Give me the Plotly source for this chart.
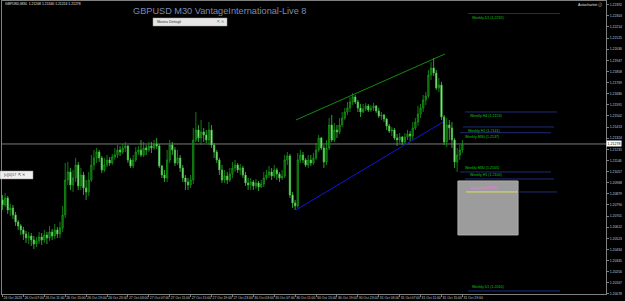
import plotly.graph_objects as go

# ---------------- data (prices in points, 1 point = 0.00001) ----------------
x_labels = ["26 Oct 2023", "26 Oct 07:00", "26 Oct 11:00", "26 Oct 15:00", "26 Oct 19:00",
            "26 Oct 23:00", "27 Oct 03:00", "27 Oct 07:00", "27 Oct 11:00", "27 Oct 15:00",
            "27 Oct 19:00", "27 Oct 23:00", "30 Oct 03:00", "30 Oct 07:00", "30 Oct 11:00",
            "30 Oct 15:00", "30 Oct 19:00", "30 Oct 23:00", "31 Oct 03:00", "31 Oct 07:00",
            "31 Oct 11:00", "31 Oct 15:00", "31 Oct 19:00"]
bars_per_label = 8

first_open_pts = 120830
close_pts = [120790,120846,120750,120766,120710,120654,120622,120590,120558,120526,
             120542,120510,120478,120502,120534,120510,120550,120526,120574,120542,
             120590,120558,120606,120710,120990,121054,120950,121006,121110,120942,
             121030,120926,120894,120990,121110,121166,121214,121166,121070,121110,
             121150,121126,121174,121190,121230,121214,121246,121262,121150,121102,
             121150,121214,121230,121190,121246,121230,121262,121246,121278,121262,
             121102,121030,121006,121150,121270,121230,121126,121166,121086,121006,
             120974,120950,120990,121310,121390,121326,121374,121350,121310,121390,
             121270,121214,121150,121070,120990,121022,120990,121038,121086,121110,
             121070,121086,121030,120966,120950,120974,120942,120966,120934,120958,
             121006,121030,121054,121022,121070,121038,121006,121022,121150,121182,
             120870,120806,120782,121150,121190,121150,121110,121150,121126,121166,
             121230,121326,121246,121134,121246,121430,121310,121390,121374,121430,
             121486,121534,121566,121614,121654,121614,121566,121534,121558,121582,
             121550,121566,121582,121542,121502,121510,121478,121422,121382,121390,
             121326,121310,121334,121294,121334,121358,121342,121406,121454,121518,
             121566,121630,121662,121830,121886,121846,121726,121750,121494,121294,
             121430,121406,121310,121134,121190,121230,121278]
high_pts = [120870,120886,120862,120798,120790,120734,120670,120638,120614,120582,
            120574,120566,120542,120534,120574,120566,120590,120574,120622,120598,
            120638,120614,120654,120782,121126,121134,121086,121070,121166,121134,
            121086,121054,120990,121054,121190,121230,121246,121230,121182,121166,
            121190,121174,121198,121246,121270,121262,121278,121294,121270,121166,
            121190,121254,121262,121310,121294,121270,121294,121294,121310,121326,
            121278,121110,121070,121230,121310,121294,121254,121230,121190,121110,
            121030,121006,121030,121406,121534,121430,121470,121406,121390,121454,
            121430,121286,121230,121166,121110,121070,121054,121086,121134,121150,
            121126,121118,121102,121054,121006,121006,120990,120998,120982,120990,
            121054,121070,121102,121086,121110,121086,121054,121070,121190,121214,
            121198,120894,120830,121206,121230,121214,121166,121190,121190,121206,
            121286,121350,121334,121270,121310,121486,121510,121446,121430,121486,
            121534,121566,121614,121654,121686,121670,121630,121598,121598,121606,
            121598,121590,121606,121590,121566,121534,121518,121486,121438,121414,
            121406,121358,121366,121342,121366,121390,121382,121454,121486,121582,
            121598,121670,121694,121870,121934,121966,121870,121806,121774,121510,
            121486,121470,121454,121326,121246,121270,121310]
low_pts = [120750,120774,120718,120702,120678,120622,120590,120550,120510,120486,
           120478,120462,120438,120454,120478,120470,120486,120478,120502,120510,
           120518,120526,120526,120574,120686,120950,120910,120894,120974,120910,
           120910,120870,120830,120862,120974,121070,121126,121134,121046,121054,
           121094,121102,121110,121150,121166,121182,121198,121214,121126,121086,
           121086,121134,121190,121174,121174,121190,121214,121206,121230,121238,
           121086,121006,120974,120974,121126,121190,121102,121110,121054,120974,
           120910,120910,120926,120958,121294,121294,121270,121294,121286,121270,
           121246,121166,121126,121030,120966,120966,120958,120974,121006,121054,
           121046,121030,121006,120942,120910,120910,120910,120918,120902,120926,
           120934,120990,121006,120990,121006,120990,120974,120990,121006,121110,
           120846,120766,120750,120766,121126,121126,121094,121086,121102,121110,
           121150,121214,121230,121086,121110,121230,121294,121294,121326,121358,
           121414,121470,121510,121534,121590,121598,121534,121494,121526,121542,
           121534,121534,121542,121526,121486,121470,121454,121390,121366,121342,
           121310,121262,121286,121270,121286,121310,121302,121310,121390,121422,
           121486,121534,121590,121646,121790,121822,121710,121694,121470,121270,
           121254,121310,121246,121086,121054,121150,121206]

# horizontal levels
level_names = ["Weekly D1", "Weekly H4", "Weekly H1", "Weekly M30", "Weekly M30", "Weekly H1", "Weekly D1"]
level_pts = [122322, 121534, 121414, 121368, 121054, 120998, 120102]
level_x0 = [178.1, 177.0, 176.2, 175.1, 175.1, 177.0, 178.1]
level_x1 = [213.4, 212.2, 211.1, 209.9, 209.9, 211.1, 213.4]
level_above = [False, False, False, False, True, True, True]

# trend lines (bar index, price points)
upper_trend = [(112.3, 121470), (169.3, 121998)]
lower_trend = [(112.3, 120750), (168.6, 121454)]

# target zone
zone_x = (174.3, 197.3)
zone_pts = (120550, 120982)
zone_level_pts = 120894
zone_level_x1 = 212.2

# price axis ticks
y_tick_pts = [122392, 122303, 122214, 122125, 122036, 121947, 121858, 121769, 121680,
              121591, 121502, 121413, 121324, 121235, 121146, 121057, 120968, 120879,
              120790, 120701, 120612, 120523, 120434, 120345, 120256, 120167, 120078]

header = "GBPUSD,M30  1.21268 1.21340 1.21224 1.21278"
title = "GBPUSD M30 VantageInternational-Live 8"

# ---------------- build ----------------
P = lambda v: v / 100000.0
n = len(close_pts)
idx = list(range(n))
opens = [first_open_pts] + close_pts[:-1]
highs = [max(h, o, c) for h, o, c in zip(high_pts, opens, close_pts)]
lows = [min(l, o, c) for l, o, c in zip(low_pts, opens, close_pts)]

W, H = 625, 301
ML, MR, MT, MB = 2, 19, 1, 7
PW, PH = W - ML - MR, H - MT - MB
def px(x):
    return (x - ML) / PW
def py(y):
    return (H - MB - y) / PH

FONT = "Liberation Sans, Arial, sans-serif"

fig = go.Figure()
fig.add_trace(go.Candlestick(
    x=idx, open=[P(v) for v in opens], high=[P(v) for v in highs],
    low=[P(v) for v in lows], close=[P(v) for v in close_pts],
    increasing=dict(line=dict(color="#179a17", width=0.8), fillcolor="#0a4a0a"),
    decreasing=dict(line=dict(color="#3cc43c", width=0.8), fillcolor="#cdf5cd"),
    whiskerwidth=0, hoverinfo="skip"))

shapes = []
annotations = []

last_price = P(close_pts[-1])
shapes.append(dict(type="line", xref="paper", yref="y", x0=0, x1=1, y0=last_price, y1=last_price,
                   line=dict(color="#7a7a7a", width=1), layer="below"))

for seg, col in ((upper_trend, "#138a13"), (lower_trend, "#1515d8")):
    shapes.append(dict(type="line", xref="x", yref="y", x0=seg[0][0], y0=P(seg[0][1]),
                       x1=seg[1][0], y1=P(seg[1][1]), line=dict(color=col, width=1)))

shapes.append(dict(type="rect", xref="x", yref="y", x0=zone_x[0], x1=zone_x[1],
                   y0=P(zone_pts[0]), y1=P(zone_pts[1]), fillcolor="#9c9c9c",
                   line=dict(color="#b0b0b0", width=1)))
shapes.append(dict(type="line", xref="x", yref="y", x0=zone_x[1], x1=zone_level_x1,
                   y0=P(zone_level_pts), y1=P(zone_level_pts), line=dict(color="#1e2c78", width=1)))
shapes.append(dict(type="line", xref="x", yref="y", x0=177.4, x1=zone_x[1],
                   y0=P(zone_level_pts), y1=P(zone_level_pts), line=dict(color="#d8e060", width=1)))
annotations.append(dict(xref="x", yref="y", x=178.0, y=P(zone_level_pts), xanchor="left", yanchor="bottom",
                        text="Support (%.4f)" % P(zone_level_pts), showarrow=False,
                        font=dict(size=3.6, color="#e878e8", family=FONT)))

for name, v, x0, x1, above in zip(level_names, level_pts, level_x0, level_x1, level_above):
    shapes.append(dict(type="line", xref="x", yref="y", x0=x0, x1=x1, y0=P(v), y1=P(v),
                       line=dict(color="#1e2c78", width=1)))
    annotations.append(dict(xref="x", yref="y", x=x0 + 1.0, y=P(v), xanchor="left",
                            yanchor="bottom" if above else "top",
                            text="%s (%.4f)" % (name, P(v)), showarrow=False,
                            font=dict(size=3.6, color="#10c810", family=FONT)))

annotations.append(dict(xref="paper", yref="paper", x=px(3), y=py(4), xanchor="left", yanchor="middle",
                        text=header, showarrow=False, font=dict(size=3.4, color="#e0e0e0", family=FONT)))
annotations.append(dict(xref="paper", yref="paper", x=px(131), y=py(10.5), xanchor="left", yanchor="middle",
                        text=title, showarrow=False, font=dict(size=9.2, color="#7b8db2", family=FONT)))
annotations.append(dict(xref="paper", yref="paper", x=px(604), y=py(4.5), xanchor="right", yanchor="middle",
                        text="Autochartist \u24d8", showarrow=False, font=dict(size=3.6, color="#e0e0e0", family=FONT)))

shapes.append(dict(type="rect", xref="paper", yref="paper", x0=px(153), x1=px(227), y0=py(26), y1=py(18),
                   fillcolor="#e6e6e6", line=dict(color="#a0a0a0", width=0.5)))
annotations.append(dict(xref="paper", yref="paper", x=px(155), y=py(22), xanchor="left", yanchor="middle",
                        text="Mostra Dettagli", showarrow=False, font=dict(size=3.6, color="#303030", family=FONT)))
annotations.append(dict(xref="paper", yref="paper", x=px(226), y=py(22), xanchor="right", yanchor="middle",
                        text="\u21f1 \u2715", showarrow=False, font=dict(size=3.6, color="#707070", family=FONT)))

shapes.append(dict(type="rect", xref="paper", yref="paper", x0=px(0), x1=px(33), y0=py(179), y1=py(171),
                   fillcolor="#f0f0f0", line=dict(color="#909090", width=0.5)))
annotations.append(dict(xref="paper", yref="paper", x=px(1.5), y=py(175), xanchor="left", yanchor="middle",
                        text="[c](0)17  \u21f1 \u2715", showarrow=False, font=dict(size=3.6, color="#404040", family=FONT)))

annotations.append(dict(xref="paper", yref="y", x=1.0, y=last_price, xanchor="left", yanchor="middle",
                        text="%.5f" % last_price, showarrow=False, bgcolor="#ffffff", borderpad=0.5,
                        font=dict(size=3.6, color="#000000", family=FONT)))

fig.update_layout(
    width=W, height=H, margin=dict(l=ML, r=MR, t=MT, b=MB, autoexpand=False),
    paper_bgcolor="#000000", plot_bgcolor="#000000", showlegend=False,
    shapes=shapes, annotations=annotations, hovermode=False,
    xaxis=dict(range=[-0.19, 230.96], showgrid=False, zeroline=False, showline=True, mirror=True,
               linecolor="#808080", linewidth=1, ticks="outside", ticklen=2, tickcolor="#808080",
               tickvals=[k * bars_per_label for k in range(len(x_labels))], ticktext=x_labels,
               tickangle=0, automargin=False,
               ticklabelposition="outside right", tickfont=dict(size=3.4, color="#c8c8c8", family=FONT),
               rangeslider=dict(visible=False), fixedrange=True),
    yaxis=dict(range=[P(120077.5), P(122422)], side="right", showgrid=False, zeroline=False,
               showline=True, mirror=True, linecolor="#808080", linewidth=1, ticks="outside",
               ticklen=2, tickcolor="#808080", tickvals=[P(v) for v in y_tick_pts],
               ticktext=["%.5f" % P(v) for v in y_tick_pts], automargin=False,
               tickfont=dict(size=3.4, color="#c8c8c8", family=FONT), fixedrange=True),
)

fig.write_html("out.html")
